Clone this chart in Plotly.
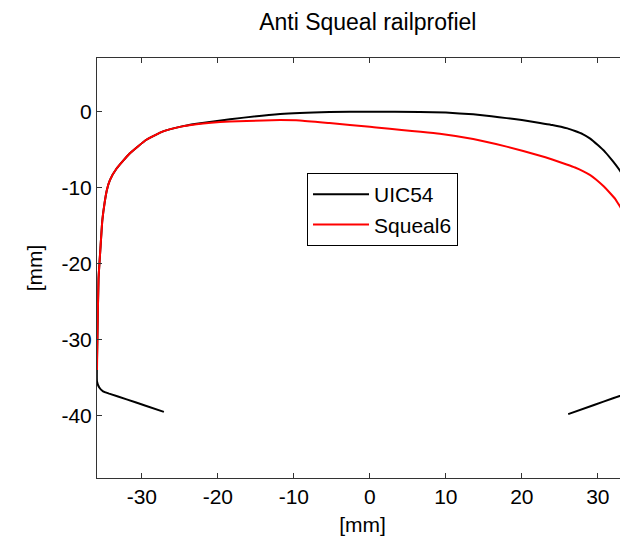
import plotly.graph_objects as go

# UIC54 profile (black)
uic_x = [-27.1, -29.5, -32.0, -34.3, -35.1, -35.6, -35.9, -35.85, -35.7, -35.45, -35.2, -34.9,
         -34.6, -34.2, -33.3, -31.6, -29.4, -27.2, -25.0, -22.8, -18.4, -11.8, -5.3, 0.0,
         6.6, 10.0, 13.6, 16.0, 18.0, 20.0, 22.4, 24.0, 26.0, 27.0, 28.0, 29.0, 30.0, 31.0,
         32.0, 33.0, 34.0, 34.6, 35.1, 35.4, 35.6, 35.9, 35.6, 35.1, 34.3, 32.0, 29.5, 26.1]
uic_y = [-39.5, -38.7, -37.85, -37.1, -36.8, -36.3, -35.5, -30.0, -22.0, -18.0, -14.3, -12.0,
         -10.3, -9.0, -7.45, -5.5, -3.7, -2.6, -2.0, -1.6, -1.0, -0.3, -0.05, 0.0,
         -0.05, -0.12, -0.35, -0.6, -0.85, -1.1, -1.5, -1.75, -2.2, -2.55, -2.95, -3.55, -4.4, -5.35,
         -6.55, -7.9, -9.7, -11.5, -14.0, -18.0, -24.0, -35.5, -36.3, -36.8, -36.95, -37.7, -38.6, -39.8]

# Squeal6 profile (red)
sq_x = [-35.9, -35.85, -35.7, -35.45, -35.2, -34.9, -34.6, -34.2, -33.3, -31.6, -29.4, -27.2,
        -25.0, -22.8, -18.4, -14.0, -11.8, -9.2, -5.3, 0.0, 9.2, 13.6, 18.0, 22.4, 24.0, 25.9,
        27.0, 28.1, 29.0, 29.8, 30.8, 31.6, 32.3, 32.9, 33.4, 33.9, 34.5, 35.0, 35.4, 35.8, 35.9]
sq_y = [-34.0, -30.0, -22.0, -18.0, -14.3, -12.0, -10.3, -9.0, -7.45, -5.5, -3.7, -2.6,
        -2.0, -1.65, -1.3, -1.15, -1.1, -1.15, -1.5, -2.0, -2.9, -3.6, -4.6, -5.8, -6.3, -6.95,
        -7.35, -7.85, -8.35, -8.95, -9.85, -10.7, -11.5, -12.45, -13.3, -14.25, -15.8, -17.8, -21.0, -27.0, -34.0]

x_ticks = [-30, -20, -10, 0, 10, 20, 30]
x_tick_labels = ["-30", "-20", "-10", "0", "10", "20", "30"]
y_ticks = [-40, -30, -20, -10, 0]
y_tick_labels = ["-40", "-30", "-20", "-10", "0"]

FONT = "Liberation Sans, Arial, Helvetica, sans-serif"

fig = go.Figure()
fig.add_trace(go.Scatter(x=uic_x, y=uic_y, mode="lines", name="UIC54",
                         line=dict(color="black", width=2, shape="spline", smoothing=0.4),
                         legendgroup="a"))
fig.add_trace(go.Scatter(x=sq_x, y=sq_y, mode="lines", name="Squeal6",
                         line=dict(color="#ff0000", width=2, shape="spline", smoothing=0.4),
                         legendgroup="b"))

axis_common = dict(
    showgrid=False, zeroline=False, ticks="inside", ticklen=5, tickwidth=1,
    tickcolor="#333333", showline=True, linecolor="#333333", linewidth=1,
    tickfont=dict(family=FONT, size=21, color="black"), automargin=False,
)

W, H = 620, 528
fig.update_layout(
    width=W, height=H,
    margin=dict(l=89, r=0, t=50, b=58),
    paper_bgcolor="white", plot_bgcolor="white",
    font=dict(family=FONT, color="black"),
    title=dict(text="Anti Squeal railprofiel", x=0.51, xref="paper", xanchor="center",
               y=1 - 14 / H, yref="container", yanchor="middle",
               font=dict(family=FONT, size=23, color="black")),
    xaxis=dict(range=[-35.9, 33.97], tickvals=x_ticks, ticktext=x_tick_labels, mirror="ticks",
               title=dict(text="[mm]", font=dict(family=FONT, size=21), standoff=10),
               **axis_common),
    yaxis=dict(range=[-48.2, 7.06], tickvals=y_ticks, ticktext=y_tick_labels, mirror=False,
               title=dict(text="[mm]", font=dict(family=FONT, size=21), standoff=13),
               **axis_common),
    legend=dict(x=0.3955, y=0.726, xanchor="left", yanchor="top",
                bordercolor="black", borderwidth=1, bgcolor="white",
                font=dict(family=FONT, size=21, color="black"),
                itemwidth=56, tracegroupgap=0),
    showlegend=True,
)

fig.write_html("out.html")
